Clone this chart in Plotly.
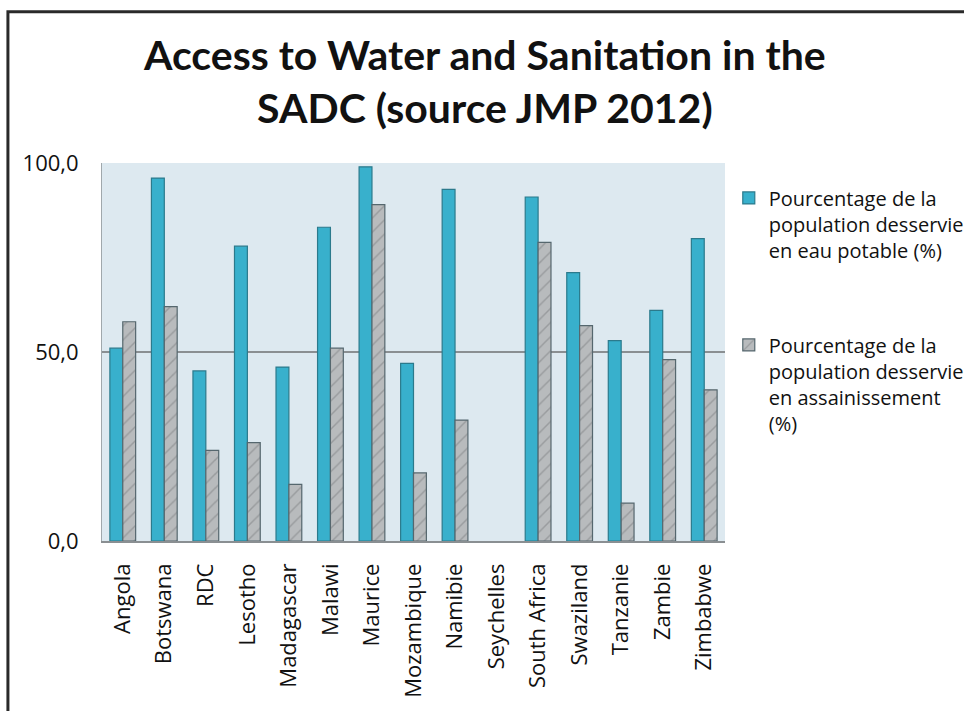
import plotly.graph_objects as go

countries = ["Angola", "Botswana", "RDC", "Lesotho", "Madagascar", "Malawi", "Maurice",
             "Mozambique", "Namibie", "Seychelles", "South Africa", "Swaziland",
             "Tanzanie", "Zambie", "Zimbabwe"]
water = [51, 96, 45, 78, 46, 83, 99, 47, 93, None, 91, 71, 53, 61, 80]
sanitation = [58, 62, 24, 26, 15, 51, 89, 18, 32, None, 79, 57, 10, 48, 40]

name_water = "Pourcentage de la<br>population desservie<br>en eau potable (%)"
name_san = "Pourcentage de la<br>population desservie<br>en assainissement<br>(%)"

FONT = "Open Sans"

fig = go.Figure()
fig.add_trace(go.Bar(
    x=countries, y=water, name=name_water, legendgroup="w",
    marker=dict(color="#38b0cc", line=dict(color="#2b7a8c", width=1.2)),
))
fig.add_trace(go.Bar(
    x=countries, y=sanitation, name=name_san, legendgroup="s",
    marker=dict(color="#a9acae", line=dict(color="#55676e", width=1.2),
                pattern=dict(shape="/", fgcolor="#7a7d80", bgcolor="#b8bbbd",
                             size=10, solidity=0.15)),
))

fig.update_layout(
    width=964, height=711,
    margin=dict(l=102, r=239, t=163, b=170, autoexpand=False),
    paper_bgcolor="white",
    plot_bgcolor="#dde9f0",
    separators=",.",
    barmode="group",
    bargap=0.38,
    bargroupgap=0.0,
    title=dict(
        text="<b>Access to Water and Sanitation in the<br>SADC (source JMP 2012)</b>",
        font=dict(family="Lato", size=41, color="#111111"),
        x=0.503, xref="container", xanchor="center",
        y=0.902, yref="container", yanchor="middle",
    ),
    font=dict(family=FONT, color="#111111"),
    legend=dict(
        xref="container", yref="container",
        x=0.756, xanchor="left", y=0.749, yanchor="top",
        font=dict(family=FONT, size=20, color="#111111"),
        valign="top", tracegroupgap=66, itemwidth=30,
        bgcolor="rgba(0,0,0,0)",
    ),
    xaxis=dict(
        type="category",
        tickangle=-90,
        tickfont=dict(family=FONT, size=22, color="#111111"),
        showline=True, linecolor="#8a8f92", linewidth=1.5,
        ticks="", ticklabelstandoff=12,
        showgrid=False,
    ),
    yaxis=dict(
        range=[0, 100],
        tickvals=[0, 50, 100],
        tickformat=".1f",
        tickfont=dict(family=FONT, size=22, color="#111111"),
        showgrid=True, gridcolor="#8a8f92", gridwidth=1.5,
        showline=True, linecolor="#a0a8ac", linewidth=1,
        zeroline=False,
        ticks="", ticklabelstandoff=18,
    ),
    shapes=[
        dict(type="rect", xref="paper", yref="paper",
             x0=-0.151, x1=1.5, y0=-0.6, y1=1.4,
             line=dict(color="#2a2a2a", width=3), fillcolor="rgba(0,0,0,0)",
             layer="above"),
    ],
)

fig.write_html("out.html")
